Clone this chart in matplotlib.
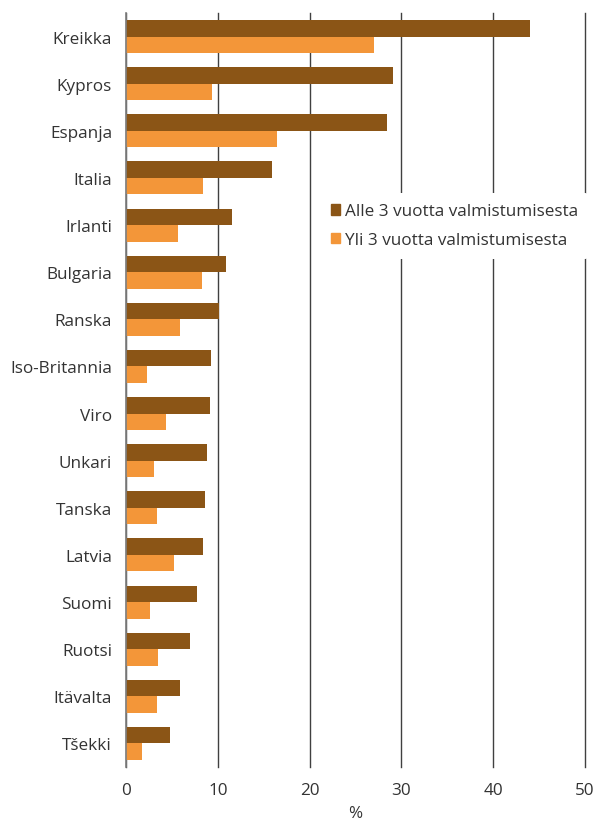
import matplotlib
matplotlib.use("Agg")
import matplotlib.pyplot as plt
import numpy as np
from matplotlib.patches import Patch

countries = ["Kreikka", "Kypros", "Espanja", "Italia", "Irlanti", "Bulgaria", "Ranska",
             "Iso-Britannia", "Viro", "Unkari", "Tanska", "Latvia", "Suomi", "Ruotsi",
             "Itävalta", "Tšekki"]
alle3 = [44.0, 29.1, 28.4, 15.9, 11.5, 10.9, 10.1, 9.3, 9.2, 8.8, 8.6, 8.4, 7.7, 7.0, 5.9, 4.8]
yli3 = [27.0, 9.4, 16.4, 8.4, 5.7, 8.3, 5.9, 2.3, 4.4, 3.1, 3.4, 5.2, 2.6, 3.5, 3.4, 1.7]
series_names = ["Alle 3 vuotta valmistumisesta", "Yli 3 vuotta valmistumisesta"]
xticks = [0, 10, 20, 30, 40, 50]

plt.rcParams['font.family'] = ['Open Sans', 'DejaVu Sans']
brown = '#8B5516'
orange = '#F39639'
txt = '#333333'
fs = 12.3

fig = plt.figure(figsize=(5.98, 8.2), dpi=100)
ax = fig.add_axes([0.2107, 0.0634, 0.7676, 0.9195])

y = np.arange(len(countries))
h = 0.35
ax.barh(y - h/2, alle3, height=h, color=brown, zorder=3)
ax.barh(y + h/2, yli3, height=h, color=orange, zorder=3)

ax.set_xlim(0, 50)
ax.set_ylim(len(countries) - 0.5, -0.5)
ax.set_yticks(y)
ax.set_yticklabels(countries, fontsize=fs, color=txt)
ax.set_xticks(xticks)
ax.set_xticklabels([str(t) for t in xticks], fontsize=fs, color=txt)
ax.tick_params(axis='both', length=0)
ax.tick_params(axis='y', pad=10)
ax.tick_params(axis='x', pad=11)
ax.grid(axis='x', color='#404040', linewidth=1, zorder=0)
for gl in ax.get_xgridlines():
    gl.set_clip_on(False)
for s in ['top', 'right', 'bottom']:
    ax.spines[s].set_visible(False)
ax.spines['left'].set_color('#808080')
ax.spines['left'].set_linewidth(1.2)
ax.spines['left'].set_zorder(4)
ax.set_xlabel('%', fontsize=fs, color=txt, labelpad=4.5)

handles = [Patch(color=brown), Patch(color=orange)]
leg = ax.legend(handles, series_names, loc='upper left', bbox_to_anchor=(0.424, 0.761),
                frameon=True, fontsize=fs, handlelength=0.55, handleheight=0.55,
                handletextpad=0.25, labelspacing=0.75, borderaxespad=0, borderpad=0.6,
                facecolor='white', edgecolor='none', framealpha=1)
leg.set_zorder(5)
for t in leg.get_texts():
    t.set_color(txt)

fig.savefig('out.png', dpi=100)
